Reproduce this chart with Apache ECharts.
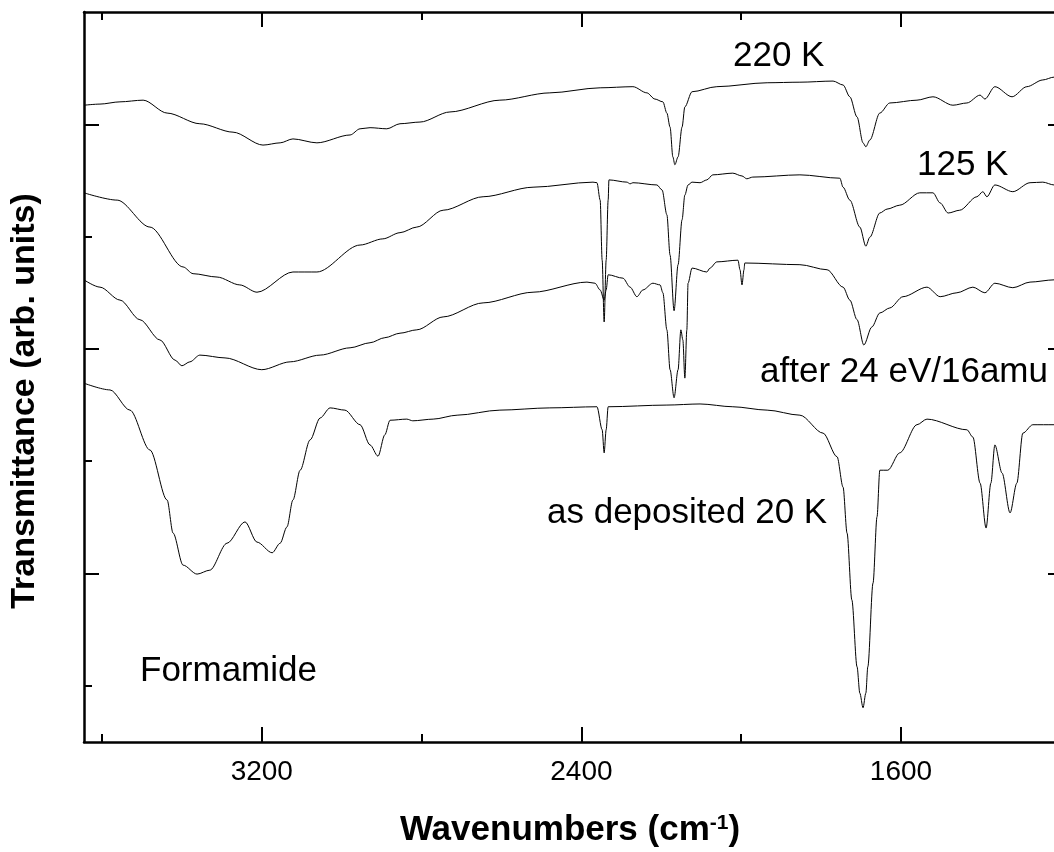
<!DOCTYPE html>
<html>
<head>
<meta charset="utf-8">
<title>Formamide IR spectra</title>
<script src="https://cdn.jsdelivr.net/npm/echarts@6/dist/echarts.min.js"></script>
<style>
  html, body { margin: 0; padding: 0; background: #fff; }
  #chart { width: 1054px; height: 852px; }
</style>
</head>
<body>
<div id="chart"></div>
<script>
// 220 K
const wn220 = [3645, 3605, 3555, 3497, 3437, 3355, 3272, 3197, 3154, 3122, 3062, 2979, 2954, 2929, 2887, 2854, 2804, 2729, 2604, 2479, 2353, 2271, 2236, 2216, 2196, 2186, 2178, 2171, 2166, 2158, 2148, 2141, 2123, 2061, 1935, 1853, 1770, 1745, 1728, 1710, 1695, 1688, 1678, 1653, 1628, 1560, 1520, 1470, 1435, 1402, 1390, 1365, 1322, 1285, 1245, 1217, 1195]
const t220 = [11.34, 11.36, 11.40, 11.43, 11.20, 11.01, 10.86, 10.63, 10.67, 10.74, 10.67, 10.81, 10.92, 10.94, 10.92, 11.01, 11.04, 11.22, 11.43, 11.56, 11.65, 11.67, 11.56, 11.45, 11.40, 11.20, 10.95, 10.42, 10.28, 10.42, 10.95, 11.31, 11.58, 11.67, 11.74, 11.75, 11.77, 11.70, 11.49, 11.13, 10.67, 10.60, 10.72, 11.20, 11.38, 11.43, 11.49, 11.34, 11.38, 11.52, 11.45, 11.67, 11.49, 11.67, 11.79, 11.84, 11.88]

// 125 K
const wn125 = [3645, 3562, 3480, 3397, 3372, 3312, 3255, 3212, 3122, 3062, 2954, 2897, 2854, 2812, 2746, 2646, 2521, 2371, 2361, 2353, 2348, 2343, 2338, 2333, 2331, 2286, 2278, 2271, 2211, 2198, 2186, 2178, 2168, 2158, 2148, 2141, 2133, 2123, 2103, 2086, 2071, 2021, 1998, 1986, 1971, 1853, 1753, 1745, 1728, 1703, 1688, 1678, 1653, 1635, 1603, 1553, 1520, 1502, 1482, 1453, 1410, 1395, 1385, 1365, 1320, 1277, 1245, 1217, 1195]
const t125 = [9.78, 9.65, 9.17, 8.46, 8.34, 8.28, 8.14, 8.01, 8.37, 8.37, 8.85, 8.96, 9.07, 9.17, 9.47, 9.71, 9.88, 9.97, 9.96, 9.65, 8.58, 7.48, 8.58, 9.65, 10.01, 9.97, 9.94, 9.96, 9.92, 9.83, 9.39, 8.67, 7.68, 8.50, 9.30, 9.74, 9.92, 9.97, 9.96, 10.01, 10.10, 10.13, 10.08, 10.03, 10.06, 10.10, 10.04, 9.88, 9.65, 9.17, 8.83, 8.99, 9.42, 9.49, 9.56, 9.78, 9.78, 9.60, 9.42, 9.47, 9.71, 9.80, 9.71, 9.92, 9.80, 9.96, 9.97, 9.92, 9.90]

// after 24 eV / 16 amu
const wnIrr = [3645, 3605, 3555, 3505, 3455, 3417, 3400, 3380, 3355, 3292, 3200, 3129, 3054, 2979, 2929, 2892, 2854, 2812, 2746, 2646, 2521, 2386, 2366, 2353, 2343, 2338, 2333, 2296, 2278, 2261, 2246, 2221, 2203, 2196, 2186, 2178, 2168, 2158, 2151, 2146, 2141, 2136, 2133, 2123, 2086, 2078, 2061, 2008, 2003, 1998, 1993, 1991, 1853, 1785, 1745, 1728, 1710, 1693, 1673, 1653, 1628, 1595, 1535, 1502, 1460, 1420, 1390, 1365, 1320, 1277, 1217, 1195]
const tIrr = [8.23, 8.10, 7.87, 7.52, 7.16, 6.80, 6.70, 6.77, 6.89, 6.84, 6.63, 6.77, 6.89, 7.02, 7.11, 7.20, 7.28, 7.34, 7.57, 7.82, 8.01, 8.19, 8.17, 8.05, 7.87, 8.05, 8.32, 8.26, 8.10, 7.93, 8.05, 8.17, 8.14, 8.00, 7.34, 6.63, 6.13, 6.63, 7.34, 7.16, 6.48, 7.34, 8.17, 8.44, 8.37, 8.44, 8.55, 8.58, 8.41, 8.14, 8.41, 8.53, 8.50, 8.41, 8.10, 7.87, 7.52, 7.07, 7.39, 7.64, 7.73, 7.93, 8.10, 7.93, 8.00, 8.10, 8.00, 8.17, 8.09, 8.19, 8.23, 8.25]

// as deposited 20 K
const wnDep = [3645, 3580, 3530, 3480, 3437, 3422, 3397, 3362, 3330, 3287, 3242, 3212, 3174, 3154, 3137, 3122, 3104, 3079, 3054, 3029, 2992, 2954, 2929, 2909, 2892, 2879, 2837, 2822, 2771, 2711, 2604, 2479, 2361, 2348, 2343, 2338, 2333, 2186, 2103, 2021, 1935, 1853, 1795, 1760, 1745, 1735, 1723, 1710, 1703, 1695, 1688, 1683, 1670, 1660, 1653, 1633, 1603, 1560, 1535, 1435, 1420, 1402, 1387, 1375, 1365, 1347, 1327, 1310, 1295, 1270, 1217, 1195]
const tDep = [6.39, 6.27, 5.91, 5.20, 4.31, 3.72, 3.15, 2.99, 3.06, 3.54, 3.92, 3.56, 3.37, 3.54, 3.83, 4.31, 4.84, 5.38, 5.77, 5.95, 5.91, 5.65, 5.29, 5.09, 5.47, 5.73, 5.75, 5.72, 5.75, 5.82, 5.91, 5.95, 5.97, 5.56, 5.15, 5.56, 5.97, 6.00, 6.02, 5.97, 5.91, 5.82, 5.50, 5.08, 4.54, 3.72, 2.53, 1.34, 0.87, 0.61, 0.87, 1.34, 2.83, 4.01, 4.84, 4.84, 5.15, 5.65, 5.75, 5.56, 5.43, 4.61, 3.81, 4.61, 5.29, 4.79, 4.08, 4.61, 5.50, 5.65, 5.65, 5.65]

const xMajorTicks = [3200, 2400, 1600]
const xMinorTicks = [3600, 2800, 2000]
const yMajorTicks = [3, 7, 11]
const yMinorTicks = [1, 5, 9]

const FONT = '"Liberation Sans", Arial, Helvetica, sans-serif'

const chart = echarts.init(document.getElementById('chart'))

function toPairs (xs, ys) {
  return xs.map((x, i) => [x, ys[i]])
}

// one axis per tick set, so major and minor ticks can have different lengths
function xAxisDef (position, ticks, len, withLine, withLabels) {
  return {
    type: 'value',
    position: position,
    inverse: true,
    min: 1217,
    max: 3645,
    axisLine: { show: withLine, onZero: false, lineStyle: { color: '#000', width: 2.5 } },
    axisTick: { show: true, inside: true, length: len, customValues: ticks, lineStyle: { color: '#000', width: 2 } },
    axisLabel: {
      show: withLabels,
      customValues: ticks,
      margin: 16,
      color: '#000',
      fontSize: 28,
      fontFamily: FONT,
      formatter: v => String(v)
    },
    splitLine: { show: false }
  }
}

// the right frame of the original sits just past the picture's edge
function yAxisDef (position, ticks, len, withLine, offset) {
  return {
    type: 'value',
    position: position,
    offset: offset,
    min: 0,
    max: 13,
    axisLine: { show: withLine, onZero: false, lineStyle: { color: '#000', width: 2.5 } },
    axisTick: { show: true, inside: true, length: len, customValues: ticks, lineStyle: { color: '#000', width: 2 } },
    axisLabel: { show: false },
    splitLine: { show: false }
  }
}

function spectrum (name, xs, ys) {
  return {
    name: name,
    type: 'line',
    xAxisIndex: 0,
    yAxisIndex: 0,
    data: toPairs(xs, ys),
    showSymbol: false,
    symbol: 'none',
    smooth: 0.3,
    smoothMonotone: 'x',
    lineStyle: { color: '#000', width: 1 },
    silent: true
  }
}

function label (text, x, y) {
  return {
    type: 'text',
    x: x,
    y: y,
    style: {
      text: text,
      font: '35px ' + FONT,
      fill: '#000',
      align: 'left',
      textAlign: 'left',
      verticalAlign: 'middle',
      textVerticalAlign: 'middle'
    }
  }
}

const option = {
  animation: false,
  backgroundColor: '#fff',
  grid: { left: 84, right: 0, top: 12, bottom: 110 },
  xAxis: [
    xAxisDef('bottom', xMajorTicks, 15, true, true),
    xAxisDef('bottom', xMinorTicks, 8, false, false),
    xAxisDef('top', xMajorTicks, 15, true, false),
    xAxisDef('top', xMinorTicks, 8, false, false)
  ],
  yAxis: [
    yAxisDef('left', yMajorTicks, 15, true, 0),
    yAxisDef('left', yMinorTicks, 8, false, 0),
    yAxisDef('right', yMajorTicks, 15, false, 9),
    yAxisDef('right', yMinorTicks, 8, false, 9)
  ],
  series: [
    spectrum('220 K', wn220, t220),
    spectrum('125 K', wn125, t125),
    spectrum('after 24 eV/16amu', wnIrr, tIrr),
    spectrum('as deposited 20 K', wnDep, tDep)
  ],
  graphic: [
    label('220 K', 733, 56),
    label('125 K', 917, 165),
    label('after 24 eV/16amu', 760, 372),
    label('as deposited 20 K', 547, 513),
    label('Formamide', 140, 671),
    {
      type: 'text',
      x: 25,
      y: 401,
      rotation: Math.PI / 2,
      style: {
        text: 'Transmittance (arb. units)',
        font: 'bold 34px ' + FONT,
        fill: '#000',
        align: 'center',
        textAlign: 'center',
        verticalAlign: 'middle',
        textVerticalAlign: 'middle'
      }
    },
    {
      type: 'text',
      x: 570,
      y: 830,
      style: {
        text: 'Wavenumbers (cm{sup|-1})',
        font: 'bold 35px ' + FONT,
        fill: '#000',
        align: 'center',
        textAlign: 'center',
        verticalAlign: 'middle',
        textVerticalAlign: 'middle',
        rich: {
          sup: {
            font: 'bold 21px ' + FONT,
            fill: '#000',
            verticalAlign: 'top',
            lineHeight: 26
          }
        }
      }
    }
  ]
}

chart.setOption(option)
</script>
</body>
</html>
